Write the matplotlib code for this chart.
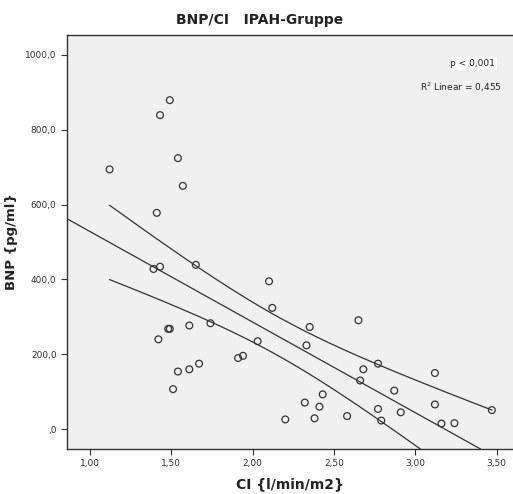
import matplotlib.pyplot as plt
import numpy as np
from matplotlib.ticker import FuncFormatter

# CI (l/min/m2) and BNP (pg/ml)
ci = [1.12, 1.49, 1.43, 1.54, 1.57, 1.41, 1.39, 1.43, 1.65, 2.10,
      2.12, 2.35, 2.65, 2.33, 2.77, 2.68, 2.66, 3.12, 3.47, 2.87,
      3.12, 2.77, 2.91, 2.79, 3.16, 3.24, 2.43, 2.32, 2.41, 2.38,
      2.58, 2.20, 1.48, 1.49, 1.42, 1.61, 1.74, 2.03, 1.91, 1.94,
      1.54, 1.61, 1.67, 1.51]
bnp = [694, 879, 839, 724, 650, 578, 428, 434, 439, 395,
       324, 273, 291, 224, 175, 160, 130, 150, 51, 103,
       66, 54, 45, 23, 15, 16, 93, 71, 60, 29,
       35, 26, 268, 268, 240, 277, 283, 235, 190, 196,
       154, 160, 175, 107]

title = 'BNP/CI   IPAH-Gruppe'
xlabel = 'CI {l/min/m2}'
ylabel = 'BNP {pg/ml}'

x = np.array(ci)
y = np.array(bnp)
n = len(x)

# linear fit + 95% confidence band of the mean
b, a = np.polyfit(x, y, 1)
resid = y - (a + b * x)
s = np.sqrt(np.sum(resid ** 2) / (n - 2))
t = 2.018
sxx = np.sum((x - x.mean()) ** 2)

xmin, xmax = 0.858, 3.60
xs = np.linspace(x.min(), x.max(), 200)
band = t * s * np.sqrt(1.0 / n + (xs - x.mean()) ** 2 / sxx)

fig = plt.figure(figsize=(5.13, 4.94), dpi=100)
ax = fig.add_axes([0.1306, 0.0911, 0.8694, 0.838])
ax.set_facecolor('#f0f0f0')

ax.scatter(x, y, s=24, facecolors='none', edgecolors='#333333', linewidths=0.9, zorder=3)

xl = np.array([xmin, xmax])
ax.plot(xl, a + b * xl, color='#333333', lw=0.9)
ax.plot(xs, a + b * xs + band, color='#333333', lw=0.9)
ax.plot(xs, a + b * xs - band, color='#333333', lw=0.9)

ax.set_xlim(xmin, xmax)
ax.set_ylim(-53, 1053)
ax.set_xticks([1.0, 1.5, 2.0, 2.5, 3.0, 3.5])
ax.set_yticks([0, 200, 400, 600, 800, 1000])
ax.xaxis.set_major_formatter(FuncFormatter(lambda v, p: ('%.2f' % v).replace('.', ',')))
ax.yaxis.set_major_formatter(FuncFormatter(lambda v, p: ',0' if v == 0 else ('%.1f' % v).replace('.', ',')))
ax.tick_params(labelsize=6.5, colors='#333333', length=4, width=0.8)

for side in ['left', 'bottom', 'top']:
    ax.spines[side].set_color('#333333')
    ax.spines[side].set_linewidth(1.0)
ax.spines['right'].set_visible(False)

ax.set_xlabel(xlabel, fontsize=10, fontweight='bold', color='#222222', labelpad=6)
ax.set_ylabel(ylabel, fontsize=9.5, fontweight='bold', color='#222222')
ax.yaxis.set_label_coords(-0.11, 0.5)
fig.text(0.507, 0.960, title, ha='center', va='center', fontsize=10, fontweight='bold', color='#222222')

ax.text(0.96, 0.932, 'p < 0,001', transform=ax.transAxes, ha='right', va='center', fontsize=6.5,
        color='#222222', bbox=dict(facecolor='white', edgecolor='none', pad=1.5))
ax.text(0.975, 0.874, 'R$^2$ Linear = %s' % ('%.3f' % 0.455).replace('.', ','), transform=ax.transAxes,
        ha='right', va='center', fontsize=6.5, color='#222222')

fig.savefig('out.png', dpi=100)
